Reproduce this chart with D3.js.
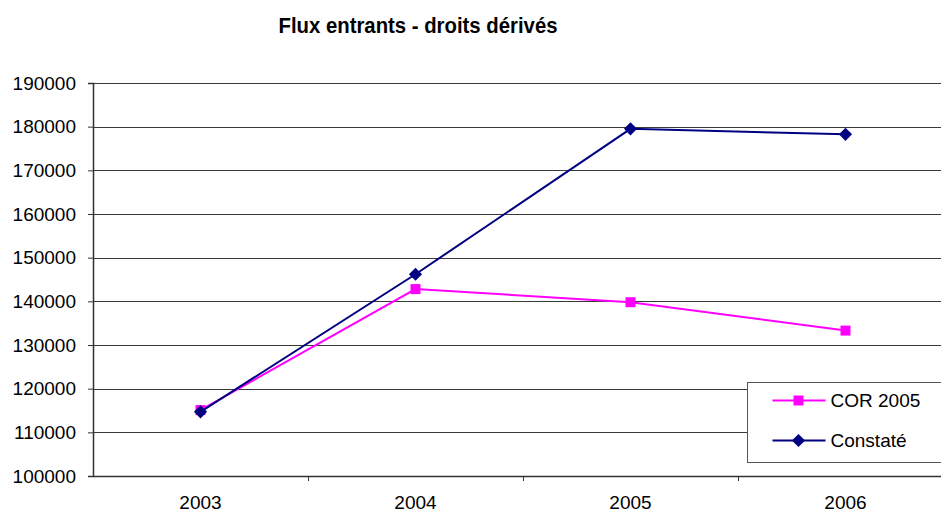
<!DOCTYPE html>
<html>
<head>
<meta charset="utf-8">
<script src="https://cdn.jsdelivr.net/npm/d3@7"></script>
<style>
  body { margin: 0; background: #fff; }
  text { font-family: "Liberation Sans", Arial, sans-serif; fill: #000; }
</style>
</head>
<body>
<div class="chart"></div>
<script>
// data
var years = ["2003", "2004", "2005", "2006"];
var corValues = [115100, 142800, 139800, 133300];
var constateValues = [114700, 146200, 179500, 178250];
var seriesNames = ["COR 2005", "Constaté"];
var yTicks = [100000, 110000, 120000, 130000, 140000, 150000, 160000, 170000, 180000, 190000];

// margin convention, right side runs past the window like the original
var margin = {top: 83, right: -12, bottom: 38, left: 93}
  , width = 941 - margin.left - margin.right
  , height = 514 - margin.top - margin.bottom;

var svg = d3.select(".chart").append("svg")
    .attr("width", 941)
    .attr("height", 514);

var g = svg.append("g")
    .attr("transform", "translate(" + margin.left + "," + margin.top + ")");

var xScale = d3.scaleBand()
    .domain(years)
    .range([0, width]);

var yScale = d3.scaleLinear()
    .domain([100000, 190000])
    .range([height, 0]);

// title
svg.append("text")
    .attr("x", 418)
    .attr("y", 33)
    .attr("text-anchor", "middle")
    .style("font-size", "22px")
    .style("font-weight", "bold")
    .attr("textLength", 279)
    .attr("lengthAdjust", "spacingAndGlyphs")
    .text("Flux entrants - droits dérivés");

// gridlines
g.selectAll(".grid")
    .data(yTicks.slice(1))
    .enter().append("line")
    .attr("class", "grid")
    .attr("x1", 0)
    .attr("x2", width)
    .attr("y1", function(d) { return Math.round(yScale(d)) + 0.5; })
    .attr("y2", function(d) { return Math.round(yScale(d)) + 0.5; })
    .attr("stroke", "#3a3a3a")
    .attr("stroke-width", 1);

// y axis
var yAxis = g.append("g")
    .call(d3.axisLeft(yScale).tickValues(yTicks).tickSize(5).tickPadding(12).tickFormat(d3.format("d")));
yAxis.select(".domain").attr("stroke", "#333").attr("stroke-width", 1.5);
yAxis.selectAll(".tick line").attr("stroke", "#333");
yAxis.selectAll("text").style("font-size", "19px").attr("fill", "#000");

// x axis, ticks sit between the categories
var xAxis = g.append("g")
    .attr("transform", "translate(0," + height + ")")
    .call(d3.axisBottom(xScale).tickSize(0).tickPadding(20));
xAxis.select(".domain").attr("stroke", "#333").attr("stroke-width", 1.5);
xAxis.selectAll("text").style("font-size", "19px").attr("fill", "#000");

g.selectAll(".xtick")
    .data(years.slice(1))
    .enter().append("line")
    .attr("class", "xtick")
    .attr("x1", function(d) { return Math.round(xScale(d)) + 0.5; })
    .attr("x2", function(d) { return Math.round(xScale(d)) + 0.5; })
    .attr("y1", height)
    .attr("y2", height + 5)
    .attr("stroke", "#333");

var line = d3.line()
    .x(function(d, i) { return xScale(years[i]) + xScale.bandwidth() / 2; })
    .y(function(d) { return yScale(d); });

// COR 2005
g.append("path")
    .datum(corValues)
    .attr("fill", "none")
    .attr("stroke", "#ff00ff")
    .attr("stroke-width", 2)
    .attr("d", line);

g.selectAll(".sq")
    .data(corValues)
    .enter().append("rect")
    .attr("class", "sq")
    .attr("x", function(d, i) { return xScale(years[i]) + xScale.bandwidth() / 2 - 5; })
    .attr("y", function(d) { return yScale(d) - 5; })
    .attr("width", 10)
    .attr("height", 10)
    .attr("fill", "#ff00ff");

// Constaté
g.append("path")
    .datum(constateValues)
    .attr("fill", "none")
    .attr("stroke", "#000080")
    .attr("stroke-width", 2)
    .attr("d", line);

var diamond = d3.symbol().type(d3.symbolDiamond2).size(110);

g.selectAll(".dm")
    .data(constateValues)
    .enter().append("path")
    .attr("class", "dm")
    .attr("transform", function(d, i) {
        return "translate(" + (xScale(years[i]) + xScale.bandwidth() / 2) + "," + yScale(d) + ")";
    })
    .attr("d", diamond)
    .attr("fill", "#000080");

// legend
var legend = svg.append("g")
    .attr("transform", "translate(747.5,382.5)");

legend.append("rect")
    .attr("width", 200)
    .attr("height", 80)
    .attr("fill", "#fff")
    .attr("stroke", "#555");

var colors = ["#ff00ff", "#000080"];
var item = legend.selectAll(".item")
    .data(seriesNames)
    .enter().append("g")
    .attr("transform", function(d, i) { return "translate(0," + (18 + i * 40) + ")"; });

item.append("line")
    .attr("x1", 25)
    .attr("x2", 78)
    .attr("stroke", function(d, i) { return colors[i]; })
    .attr("stroke-width", 2);

item.append("path")
    .attr("transform", "translate(51,0)")
    .attr("d", function(d, i) {
        return i === 0 ? d3.symbol().type(d3.symbolSquare).size(100)() : diamond();
    })
    .attr("fill", function(d, i) { return colors[i]; });

item.append("text")
    .attr("x", 83)
    .attr("dy", "0.35em")
    .style("font-size", "19px")
    .text(function(d) { return d; });
</script>
</body>
</html>
